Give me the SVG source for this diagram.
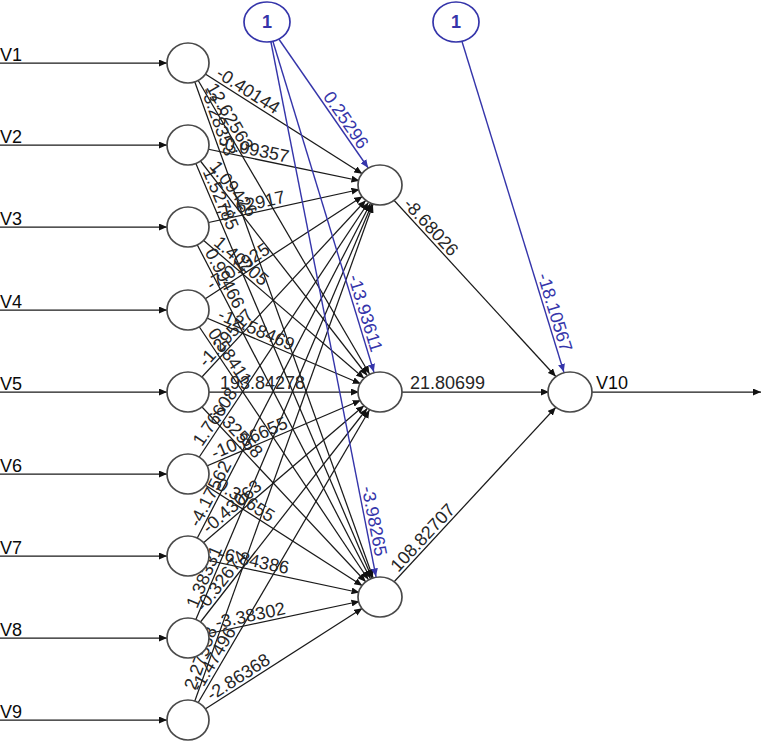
<svg xmlns="http://www.w3.org/2000/svg" width="762" height="744" viewBox="0 0 762 744">
<style>
.e{stroke:#1a1a1a;stroke-width:1.25;marker-end:url(#ah)}
.eo{stroke:#1a1a1a;stroke-width:1.25;marker-end:url(#ahe)}
.bl{stroke:#3535aa;stroke-width:1.4;marker-end:url(#ahb)}
.n{fill:#fff;stroke:#4a4a4a;stroke-width:1.7}
.nb{fill:#fff;stroke:#3535aa;stroke-width:1.7}
text{font-family:"Liberation Sans",Arial,sans-serif}
.w{font-size:18px;fill:#262626}
.wb{font-size:18px;fill:#3535aa;text-anchor:end}
.lab{font-size:18px;fill:#0a0a0a}
.one{font-size:18px;fill:#3535aa;text-anchor:middle;font-weight:bold}
</style>
<defs>
<marker id="ah" markerUnits="userSpaceOnUse" markerWidth="9" markerHeight="7" refX="29" refY="3.5" orient="auto"><path d="M0,0L8,3.5L0,7z" fill="#111"/></marker>
<marker id="ahb" markerUnits="userSpaceOnUse" markerWidth="9" markerHeight="7" refX="29" refY="3.5" orient="auto"><path d="M0,0L8,3.5L0,7z" fill="#3535aa"/></marker>
<marker id="ahe" markerUnits="userSpaceOnUse" markerWidth="9" markerHeight="7" refX="8" refY="3.5" orient="auto"><path d="M0,0L8,3.5L0,7z" fill="#111"/></marker>
</defs>
<g id="connectors">
<line class="e" x1="0" y1="63" x2="188" y2="63"/>
<line class="e" x1="0" y1="145" x2="188" y2="145"/>
<line class="e" x1="0" y1="227" x2="188" y2="227"/>
<line class="e" x1="0" y1="310" x2="188" y2="310"/>
<line class="e" x1="0" y1="392" x2="188" y2="392"/>
<line class="e" x1="0" y1="474" x2="188" y2="474"/>
<line class="e" x1="0" y1="556" x2="188" y2="556"/>
<line class="e" x1="0" y1="638" x2="188" y2="638"/>
<line class="e" x1="0" y1="720" x2="188" y2="720"/>
<line class="e" x1="188" y1="63" x2="380" y2="185"/>
<line class="e" x1="188" y1="63" x2="380" y2="392"/>
<line class="e" x1="188" y1="63" x2="380" y2="597"/>
<line class="e" x1="188" y1="145" x2="380" y2="185"/>
<line class="e" x1="188" y1="145" x2="380" y2="392"/>
<line class="e" x1="188" y1="145" x2="380" y2="597"/>
<line class="e" x1="188" y1="227" x2="380" y2="185"/>
<line class="e" x1="188" y1="227" x2="380" y2="392"/>
<line class="e" x1="188" y1="227" x2="380" y2="597"/>
<line class="e" x1="188" y1="310" x2="380" y2="185"/>
<line class="e" x1="188" y1="310" x2="380" y2="392"/>
<line class="e" x1="188" y1="310" x2="380" y2="597"/>
<line class="e" x1="188" y1="392" x2="380" y2="185"/>
<line class="e" x1="188" y1="392" x2="380" y2="392"/>
<line class="e" x1="188" y1="392" x2="380" y2="597"/>
<line class="e" x1="188" y1="474" x2="380" y2="185"/>
<line class="e" x1="188" y1="474" x2="380" y2="392"/>
<line class="e" x1="188" y1="474" x2="380" y2="597"/>
<line class="e" x1="188" y1="556" x2="380" y2="185"/>
<line class="e" x1="188" y1="556" x2="380" y2="392"/>
<line class="e" x1="188" y1="556" x2="380" y2="597"/>
<line class="e" x1="188" y1="638" x2="380" y2="185"/>
<line class="e" x1="188" y1="638" x2="380" y2="392"/>
<line class="e" x1="188" y1="638" x2="380" y2="597"/>
<line class="e" x1="188" y1="720" x2="380" y2="185"/>
<line class="e" x1="188" y1="720" x2="380" y2="392"/>
<line class="e" x1="188" y1="720" x2="380" y2="597"/>
<line class="e" x1="380" y1="185" x2="570" y2="392"/>
<line class="e" x1="380" y1="392" x2="570" y2="392"/>
<line class="e" x1="380" y1="597" x2="570" y2="392"/>
<line class="eo" x1="592" y1="392" x2="761" y2="392"/>
<line class="bl" x1="267" y1="22" x2="380" y2="185"/>
<line class="bl" x1="267" y1="22" x2="380" y2="392"/>
<line class="bl" x1="267" y1="22" x2="380" y2="597"/>
<line class="bl" x1="456" y1="22" x2="570" y2="392"/>
<g id="weights">
<text class="w" transform="translate(188,63) rotate(32.43)" x="30" y="-3">-0.40144</text>
<text class="w" transform="translate(188,63) rotate(59.73)" x="30" y="-3">12.62563</text>
<text class="w" transform="translate(188,63) rotate(70.22)" x="30" y="-3">-3.28353</text>
<text class="w" transform="translate(188,145) rotate(11.77)" x="30" y="-3">-0.09357</text>
<text class="w" transform="translate(188,145) rotate(52.14)" x="30" y="-3">1.09426</text>
<text class="w" transform="translate(188,145) rotate(66.99)" x="30" y="-3">1.52785</text>
<text class="w" transform="translate(188,227) rotate(-12.34)" x="30" y="-3">-1.62917</text>
<text class="w" transform="translate(188,227) rotate(40.68)" x="30" y="-3">1.40205</text>
<text class="w" transform="translate(188,227) rotate(62.57)" x="30" y="-3">0.99466</text>
<text class="w" transform="translate(188,310) rotate(-33.07)" x="30" y="-3">-7.01925</text>
<text class="w" transform="translate(188,310) rotate(23.13)" x="30" y="-3">-12.58469</text>
<text class="w" transform="translate(188,310) rotate(56.21)" x="30" y="-3">0.58411</text>
<text class="w" transform="translate(188,392) rotate(-47.15)" x="30" y="-3">-1.29517</text>
<text class="w" transform="translate(188,392)" x="32" y="-3">193.84278</text>
<text class="w" transform="translate(188,392) rotate(46.88)" x="30" y="-3">7.32558</text>
<text class="w" transform="translate(188,474) rotate(-56.41)" x="30" y="-3">1.76608</text>
<text class="w" transform="translate(188,474) rotate(-23.13)" x="30" y="-3">-10.86655</text>
<text class="w" transform="translate(188,474) rotate(32.64)" x="30" y="-3">0.30655</text>
<text class="w" transform="translate(188,556) rotate(-62.64)" x="30" y="-3">-4.17562</text>
<text class="w" transform="translate(188,556) rotate(-40.5)" x="30" y="-3">-0.43063</text>
<text class="w" transform="translate(188,556) rotate(12.05)" x="30" y="-3">-6.84386</text>
<text class="w" transform="translate(188,638) rotate(-67.03)" x="30" y="-3">1.38331</text>
<text class="w" transform="translate(188,638) rotate(-52.03)" x="30" y="-3">-0.32674</text>
<text class="w" transform="translate(188,638) rotate(-12.05)" x="30" y="-3">-3.38302</text>
<text class="w" transform="translate(188,720) rotate(-70.25)" x="30" y="-3">2.27558</text>
<text class="w" transform="translate(188,720) rotate(-59.66)" x="30" y="-3">-1.47496</text>
<text class="w" transform="translate(188,720) rotate(-32.64)" x="30" y="-3">-2.86368</text>
<text class="w" transform="translate(380,185) rotate(47.45)" x="30" y="-3">-8.68026</text>
<text class="w" transform="translate(380,392)" x="30" y="-3">21.80699</text>
<text class="w" transform="translate(380,597) rotate(-47.17)" x="30" y="-3">108.82707</text>
<text class="wb" transform="translate(267,22) rotate(55.27)" x="158" y="-3">0.25296</text>
<text class="wb" transform="translate(267,22) rotate(73.02)" x="347" y="-3">-13.93611</text>
<text class="wb" transform="translate(267,22) rotate(78.88)" x="546" y="-3">-3.98265</text>
<text class="wb" transform="translate(456,22) rotate(72.88)" x="347" y="-3">-18.10567</text>
</g>
</g>
<g id="in1"><ellipse class="n" cx="188" cy="63" rx="21" ry="20"/><text class="lab" x="0" y="61">V1</text></g>
<g id="in2"><ellipse class="n" cx="188" cy="145" rx="21" ry="20"/><text class="lab" x="0" y="143">V2</text></g>
<g id="in3"><ellipse class="n" cx="188" cy="227" rx="21" ry="20"/><text class="lab" x="0" y="225">V3</text></g>
<g id="in4"><ellipse class="n" cx="188" cy="310" rx="21" ry="20"/><text class="lab" x="0" y="308">V4</text></g>
<g id="in5"><ellipse class="n" cx="188" cy="392" rx="21" ry="20"/><text class="lab" x="0" y="390">V5</text></g>
<g id="in6"><ellipse class="n" cx="188" cy="474" rx="21" ry="20"/><text class="lab" x="0" y="472">V6</text></g>
<g id="in7"><ellipse class="n" cx="188" cy="556" rx="21" ry="20"/><text class="lab" x="0" y="554">V7</text></g>
<g id="in8"><ellipse class="n" cx="188" cy="638" rx="21" ry="20"/><text class="lab" x="0" y="636">V8</text></g>
<g id="in9"><ellipse class="n" cx="188" cy="720" rx="21" ry="20"/><text class="lab" x="0" y="718">V9</text></g>
<g id="h1"><ellipse class="n" cx="380" cy="185" rx="22" ry="20"/></g>
<g id="h2"><ellipse class="n" cx="380" cy="392" rx="22" ry="20"/></g>
<g id="h3"><ellipse class="n" cx="380" cy="597" rx="22" ry="20"/></g>
<g id="out"><ellipse class="n" cx="570" cy="392" rx="22" ry="20"/><text class="lab" x="596" y="389">V10</text></g>
<g id="bias1"><ellipse class="nb" cx="267" cy="22" rx="23" ry="20"/><text class="one" x="267" y="28">1</text></g>
<g id="bias2"><ellipse class="nb" cx="456" cy="22" rx="23" ry="20"/><text class="one" x="456" y="28">1</text></g>
</svg>
